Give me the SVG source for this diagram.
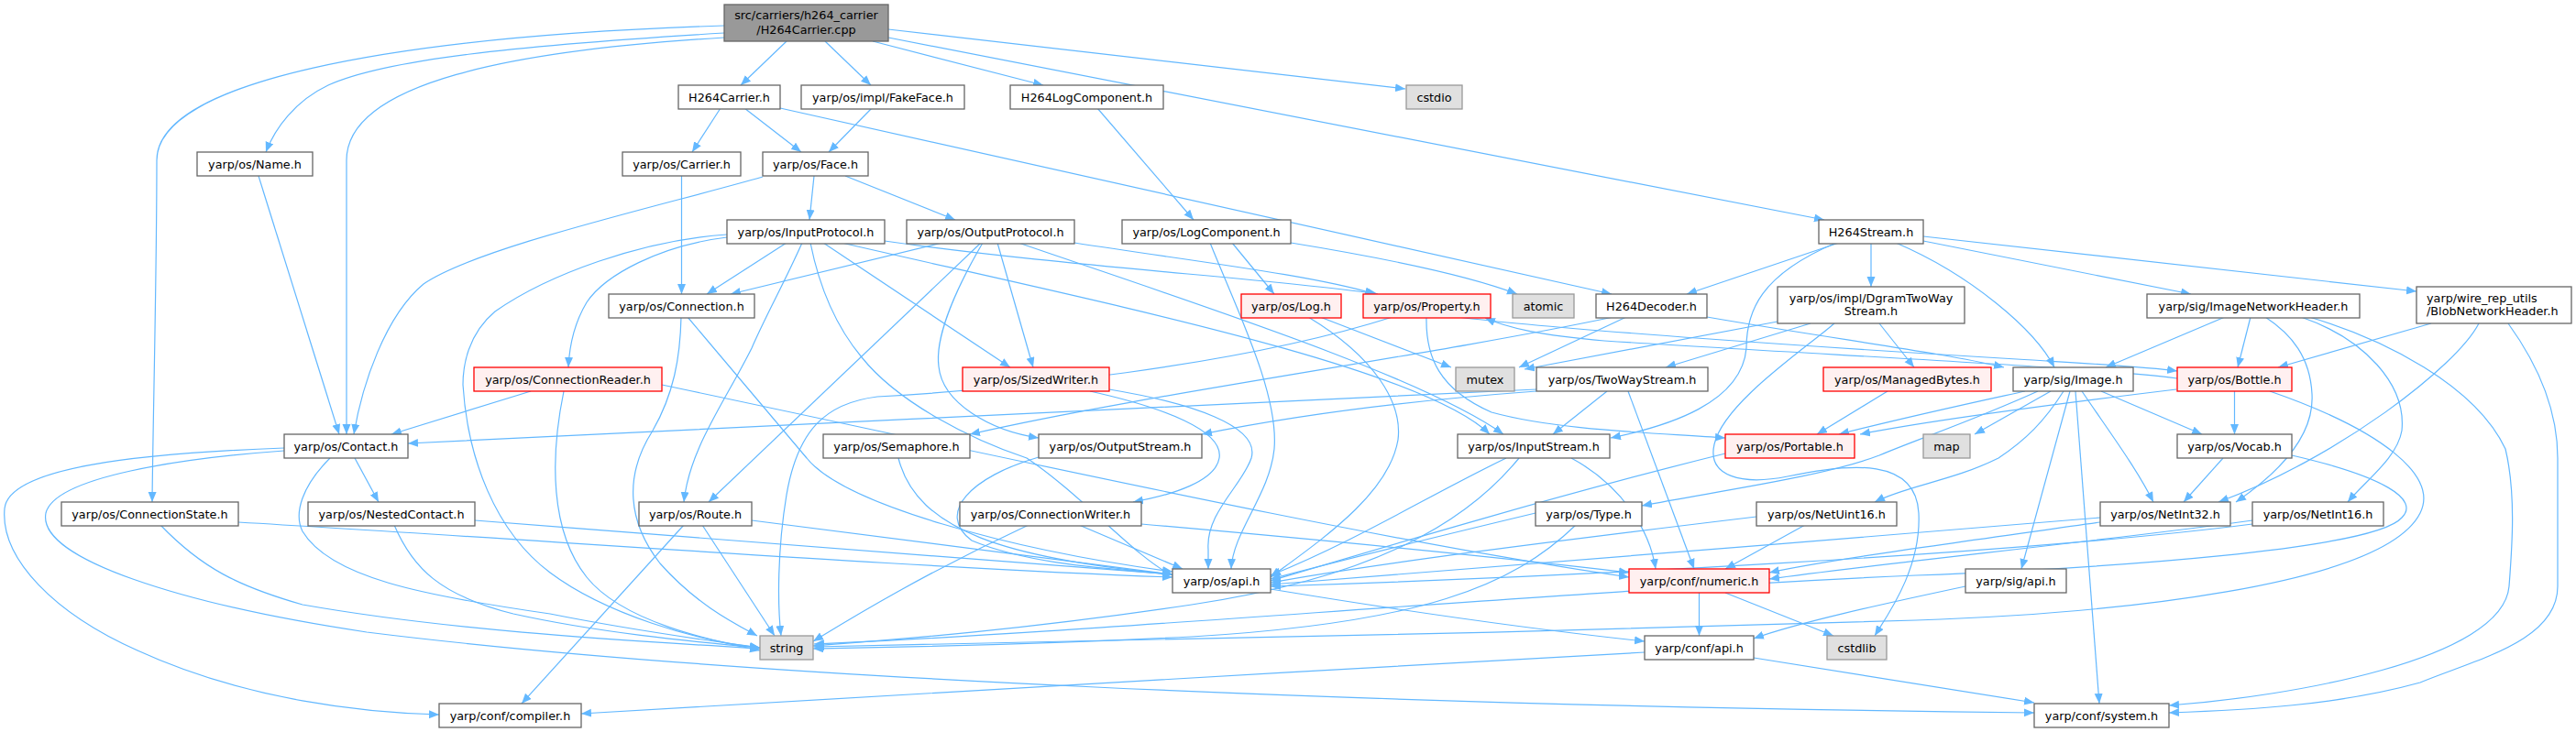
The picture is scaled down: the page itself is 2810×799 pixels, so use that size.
<svg xmlns="http://www.w3.org/2000/svg" width="2810" height="799" viewBox="0 0 2810 799">
<defs>
<style>
.e{fill:none;stroke:#63b8ff;stroke-width:1.2;marker-end:url(#ah)}
.n rect{fill:#fff;stroke:#666;stroke-width:1.3}
.n.g rect{fill:#999}
.n.s rect{fill:#e0e0e0;stroke:#999}
.n.r rect{fill:#fff0f0;stroke:#f00}
text{font-family:"DejaVu Sans","Liberation Sans",sans-serif;font-size:12.8px;fill:#000;text-anchor:middle}
text.l{text-anchor:start}
</style>
<marker id="ah" markerUnits="userSpaceOnUse" markerWidth="12" markerHeight="10" refX="11" refY="4.5" orient="auto"><path d="M0,0L11,4.5L0,9z" fill="#63b8ff"/></marker>
</defs>
<rect width="2810" height="799" fill="#fff"/>
<g id="edges">
<path class="e" d="M858,45L808,93"/>
<path class="e" d="M900,45L950,93"/>
<path class="e" d="M952,45L1138,93"/>
<path class="e" d="M969,32L1533,97"/>
<path class="e" d="M969,41L1990,240"/>
<path class="e" d="M790,36C560,50 420,65 358,93C322,110 300,140 290,166"/>
<path class="e" d="M790,41C560,55 378,90 378,175L378,474"/>
<path class="e" d="M790,28C420,40 171,90 171,175C171,300 167,450 166,548"/>
<path class="e" d="M786,118L755,166"/>
<path class="e" d="M812,118L874,166"/>
<path class="e" d="M851,118L1758,321"/>
<path class="e" d="M951,118L904,166"/>
<path class="e" d="M1197,118L1302,240"/>
<path class="e" d="M282,192L370,474"/>
<path class="e" d="M743.5,192L743.5,321"/>
<path class="e" d="M832,193C720,225 520,270 462,310C420,345 395,420 386,474"/>
<path class="e" d="M888,192L883,240"/>
<path class="e" d="M922,192L1042,240"/>
<path class="e" d="M858,265L771,321"/>
<path class="e" d="M793,259C720,268 660,300 640,330C625,355 621,380 620,401"/>
<path class="e" d="M793,256C700,262 597,300 540,340C510,365 505,400 505,420C510,500 540,580 600,625C660,670 760,700 829,707"/>
<path class="e" d="M875,265C855,310 835,345 820,380C790,440 752,490 746,548"/>
<path class="e" d="M898,265L1102,401"/>
<path class="e" d="M918,265C1200,330 1550,400 1625,474"/>
<path class="e" d="M965,263C1150,290 1400,305 1503,321"/>
<path class="e" d="M884,265C895,320 915,360 940,390C980,440 1060,480 1120,500C1180,540 1240,610 1279,628"/>
<path class="e" d="M1028,265L797,321"/>
<path class="e" d="M1070,265L773,548"/>
<path class="e" d="M1088,265L1127,401"/>
<path class="e" d="M1072,265C1040,320 1020,370 1024,400C1028,440 1080,470 1133,478"/>
<path class="e" d="M1111,265C1300,330 1550,410 1640,474"/>
<path class="e" d="M1172,265C1300,285 1430,300 1500,321"/>
<path class="e" d="M1344,265L1390,321"/>
<path class="e" d="M1408,265C1500,280 1600,300 1655,321"/>
<path class="e" d="M1320,265C1350,340 1395,430 1390,490C1385,540 1345,580 1343,621"/>
<path class="e" d="M2006,265L1840,321"/>
<path class="e" d="M2041,265L2041,313"/>
<path class="e" d="M2068,265C2150,300 2220,360 2241,401"/>
<path class="e" d="M2098,263L2390,321"/>
<path class="e" d="M2098,258L2636,318"/>
<path class="e" d="M2003,265C1920,300 1905,340 1905,380C1900,440 1820,465 1757,478"/>
<path class="e" d="M1774,346L1657,401"/>
<path class="e" d="M1862,346C2000,370 2120,385 2186,401"/>
<path class="e" d="M1760,346C1550,390 1250,430 1058,474"/>
<path class="e" d="M1939,351L1663,403"/>
<path class="e" d="M1975,353L1817,401"/>
<path class="e" d="M2050,353L2088,401"/>
<path class="e" d="M2001,353C1970,380 1880,440 1870,485C1862,520 1900,530 1950,520C2020,505 2090,500 2093,560C2096,620 2060,670 2045,694"/>
<path class="e" d="M2427,346L2297,401"/>
<path class="e" d="M2455,346L2441,401"/>
<path class="e" d="M2471,346C2500,365 2520,390 2522,430C2525,480 2480,520 2439,548"/>
<path class="e" d="M2510,346C2580,370 2625,420 2620,470C2615,500 2580,525 2561,548"/>
<path class="e" d="M2519,346C2600,370 2700,420 2733,490C2745,540 2740,600 2737,640C2730,720 2500,760 2366,770"/>
<path class="e" d="M2652,353L2485,401"/>
<path class="e" d="M2704,353C2680,400 2550,500 2420,548"/>
<path class="e" d="M2736,353C2770,400 2790,450 2790,500L2790,640C2790,700 2700,720 2640,745C2550,770 2450,775 2366,778"/>
<path class="e" d="M579,427L427,474"/>
<path class="e" d="M615,427C600,500 600,580 640,630C680,680 780,700 829,710"/>
<path class="e" d="M722,420C1100,500 1500,590 1777,630"/>
<path class="e" d="M1189,427C1270,445 1335,470 1330,500C1326,525 1280,540 1236,548"/>
<path class="e" d="M1210,425C1300,440 1375,465 1365,500C1355,530 1315,560 1318,600L1318,621"/>
<path class="e" d="M1440,346L1583,401"/>
<path class="e" d="M1427,346C1500,390 1530,440 1525,480C1515,540 1440,590 1386,630"/>
<path class="e" d="M1590,346C1700,360 2000,380 2200,392C2280,397 2340,400 2375,405"/>
<path class="e" d="M2375,413C2300,402 2000,388 1750,372C1680,366 1645,358 1620,347"/>
<path class="e" d="M1556,346C1555,390 1570,425 1627,450C1700,470 1800,472 1882,478"/>
<path class="e" d="M1519,346C1350,400 1100,425 957,433C900,440 870,470 858,540C848,600 848,660 852,694"/>
<path class="e" d="M1676,425C1400,440 800,465 445,484"/>
<path class="e" d="M1676,427C1500,440 1380,460 1311,474"/>
<path class="e" d="M1753,427L1694,474"/>
<path class="e" d="M1776,427L1848,621"/>
<path class="e" d="M2059,427L1982,474"/>
<path class="e" d="M2209,427C2150,440 2080,455 2006,474"/>
<path class="e" d="M2223,427C2150,460 2090,480 2050,497C1990,520 1880,535 1791,552"/>
<path class="e" d="M2237,427L2154,474"/>
<path class="e" d="M2251,427C2230,460 2210,480 2180,500C2130,525 2080,530 2045,548"/>
<path class="e" d="M2258,427L2205,621"/>
<path class="e" d="M2264,427L2290,768"/>
<path class="e" d="M2271,427C2300,470 2330,510 2349,548"/>
<path class="e" d="M2292,427L2402,474"/>
<path class="e" d="M2374,425C2250,440 2100,460 2029,474"/>
<path class="e" d="M2437.5,427L2437.5,474"/>
<path class="e" d="M2476,427C2600,470 2660,520 2640,560C2600,640 2300,670 2090,677C1700,690 1200,700 888,706"/>
<path class="e" d="M2425,500L2382,548"/>
<path class="e" d="M2500,497C2600,520 2640,545 2620,565C2590,600 2300,620 2090,628C1700,645 1200,690 888,703"/>
<path class="e" d="M387,500L413,548"/>
<path class="e" d="M360,500C330,530 320,560 330,580C360,630 460,650 600,670C700,690 780,700 829,707"/>
<path class="e" d="M310,489C150,495 10,510 5,555C0,610 60,670 150,710C270,765 400,778 479,780"/>
<path class="e" d="M310,492C200,500 60,520 50,560C40,610 200,660 400,690C800,740 1500,770 2219,778"/>
<path class="e" d="M518,568C800,590 1100,615 1279,627"/>
<path class="e" d="M430,573C450,620 480,650 560,670C650,690 750,700 829,707"/>
<path class="e" d="M260,570C600,590 1000,620 1279,630"/>
<path class="e" d="M175,573C220,620 260,640 330,660C500,690 700,700 829,708"/>
<path class="e" d="M820,568L1279,627"/>
<path class="e" d="M766,573L845,694"/>
<path class="e" d="M746,573L569,768"/>
<path class="e" d="M1177,573L1290,621"/>
<path class="e" d="M1122,573C1000,630 920,680 887,700"/>
<path class="e" d="M1245,572C1450,590 1650,610 1777,625"/>
<path class="e" d="M980,500C1000,580 1100,610 1279,627"/>
<path class="e" d="M1133,499C1060,520 1020,560 1060,590C1120,615 1200,620 1279,627"/>
<path class="e" d="M1643,500C1560,540 1480,590 1386,628"/>
<path class="e" d="M1657,500C1600,570 1500,630 1300,660C1100,690 950,700 887,705"/>
<path class="e" d="M1714,500C1770,530 1800,580 1806,621"/>
<path class="e" d="M1675,560C1550,590 1450,615 1386,632"/>
<path class="e" d="M1719,573C1650,640 1550,680 1300,695C1100,705 950,707 887,708"/>
<path class="e" d="M1882,495C1700,540 1500,600 1386,634"/>
<path class="e" d="M1916,564C1700,590 1500,615 1386,636"/>
<path class="e" d="M1969,573L1882,621"/>
<path class="e" d="M2291,565C2000,590 1600,620 1386,638"/>
<path class="e" d="M2291,570C2150,590 2000,610 1930,625"/>
<path class="e" d="M2457,568C2300,590 2050,615 1930,632"/>
<path class="e" d="M2457,572C2200,605 1700,630 1386,640"/>
<path class="e" d="M2144,640C2050,660 1960,680 1913,697"/>
<path class="e" d="M1386,643C1550,670 1700,690 1794,700"/>
<path class="e" d="M1853.5,647L1853.5,694"/>
<path class="e" d="M1882,647L2000,694"/>
<path class="e" d="M1794,712C1400,735 900,760 634,779"/>
<path class="e" d="M1913,718C2050,740 2150,755 2219,767"/>
<path class="e" d="M750,346L880,500C920,550 1100,600 1279,624"/>
<path class="e" d="M743,346C742,390 735,430 712,470C680,520 685,570 720,615C760,660 800,680 826,694"/>
</g>
<g id="n-main" class="n g"><rect x="790" y="5" width="179" height="40"/><text x="879.5" y="21">src/carriers/h264_carrier</text><text x="879.5" y="36.5">/H264Carrier.cpp</text></g>
<g id="n-h264carrier-h" class="n"><rect x="740" y="93" width="111" height="26"/><text x="795.5" y="110.5">H264Carrier.h</text></g>
<g id="n-fakeface" class="n"><rect x="874" y="93" width="178" height="26"/><text x="963" y="110.5">yarp/os/impl/FakeFace.h</text></g>
<g id="n-h264logcomponent" class="n"><rect x="1102" y="93" width="167" height="26"/><text x="1185.5" y="110.5">H264LogComponent.h</text></g>
<g id="n-cstdio" class="n s"><rect x="1534" y="93" width="61" height="26"/><text x="1564.5" y="110.5">cstdio</text></g>
<g id="n-name" class="n"><rect x="215" y="166" width="126" height="26"/><text x="278" y="183.5">yarp/os/Name.h</text></g>
<g id="n-carrier" class="n"><rect x="679" y="166" width="129" height="26"/><text x="743.5" y="183.5">yarp/os/Carrier.h</text></g>
<g id="n-face" class="n"><rect x="832" y="166" width="115" height="26"/><text x="889.5" y="183.5">yarp/os/Face.h</text></g>
<g id="n-inputprotocol" class="n"><rect x="793" y="240" width="172" height="26"/><text x="879" y="257.5">yarp/os/InputProtocol.h</text></g>
<g id="n-outputprotocol" class="n"><rect x="989" y="240" width="183" height="26"/><text x="1080.5" y="257.5">yarp/os/OutputProtocol.h</text></g>
<g id="n-logcomponent" class="n"><rect x="1224" y="240" width="184" height="26"/><text x="1316" y="257.5">yarp/os/LogComponent.h</text></g>
<g id="n-h264stream" class="n"><rect x="1984" y="240" width="114" height="26"/><text x="2041" y="257.5">H264Stream.h</text></g>
<g id="n-connection" class="n"><rect x="664" y="321" width="159" height="26"/><text x="743.5" y="338.5">yarp/os/Connection.h</text></g>
<g id="n-log" class="n r"><rect x="1354" y="321" width="109" height="26"/><text x="1408.5" y="338.5">yarp/os/Log.h</text></g>
<g id="n-property" class="n r"><rect x="1487" y="321" width="139" height="26"/><text x="1556.5" y="338.5">yarp/os/Property.h</text></g>
<g id="n-atomic" class="n s"><rect x="1650" y="321" width="67" height="26"/><text x="1683.5" y="338.5">atomic</text></g>
<g id="n-h264decoder" class="n"><rect x="1741" y="321" width="121" height="26"/><text x="1801.5" y="338.5">H264Decoder.h</text></g>
<g id="n-dgram" class="n"><rect x="1939" y="313" width="204" height="40"/><text x="2041" y="329.5">yarp/os/impl/DgramTwoWay</text><text x="2041" y="344">Stream.h</text></g>
<g id="n-imagenetworkheader" class="n"><rect x="2342" y="321" width="232" height="26"/><text x="2458" y="338.5">yarp/sig/ImageNetworkHeader.h</text></g>
<g id="n-blob" class="n"><rect x="2636" y="313" width="169" height="40"/><text class="l" x="2647" y="329.5">yarp/wire_rep_utils</text><text class="l" x="2647" y="344">/BlobNetworkHeader.h</text></g>
<g id="n-connectionreader" class="n r"><rect x="517" y="401" width="205" height="26"/><text x="619.5" y="418.5">yarp/os/ConnectionReader.h</text></g>
<g id="n-sizedwriter" class="n r"><rect x="1050" y="401" width="160" height="26"/><text x="1130" y="418.5">yarp/os/SizedWriter.h</text></g>
<g id="n-mutex" class="n s"><rect x="1588" y="401" width="64" height="26"/><text x="1620" y="418.5">mutex</text></g>
<g id="n-twowaystream" class="n"><rect x="1676" y="401" width="187" height="26"/><text x="1769.5" y="418.5">yarp/os/TwoWayStream.h</text></g>
<g id="n-managedbytes" class="n r"><rect x="1989" y="401" width="183" height="26"/><text x="2080.5" y="418.5">yarp/os/ManagedBytes.h</text></g>
<g id="n-image" class="n"><rect x="2196" y="401" width="131" height="26"/><text x="2261.5" y="418.5">yarp/sig/Image.h</text></g>
<g id="n-bottle" class="n r"><rect x="2375" y="401" width="125" height="26"/><text x="2437.5" y="418.5">yarp/os/Bottle.h</text></g>
<g id="n-contact" class="n"><rect x="310" y="474" width="135" height="26"/><text x="377.5" y="491.5">yarp/os/Contact.h</text></g>
<g id="n-semaphore" class="n"><rect x="898" y="474" width="160" height="26"/><text x="978" y="491.5">yarp/os/Semaphore.h</text></g>
<g id="n-outputstream" class="n"><rect x="1133" y="474" width="178" height="26"/><text x="1222" y="491.5">yarp/os/OutputStream.h</text></g>
<g id="n-inputstream" class="n"><rect x="1590" y="474" width="166" height="26"/><text x="1673" y="491.5">yarp/os/InputStream.h</text></g>
<g id="n-portable" class="n r"><rect x="1882" y="474" width="141" height="26"/><text x="1952.5" y="491.5">yarp/os/Portable.h</text></g>
<g id="n-map" class="n s"><rect x="2098" y="474" width="51" height="26"/><text x="2123.5" y="491.5">map</text></g>
<g id="n-vocab" class="n"><rect x="2375" y="474" width="125" height="26"/><text x="2437.5" y="491.5">yarp/os/Vocab.h</text></g>
<g id="n-connectionstate" class="n"><rect x="67" y="548" width="193" height="26"/><text x="163.5" y="565.5">yarp/os/ConnectionState.h</text></g>
<g id="n-nestedcontact" class="n"><rect x="336" y="548" width="182" height="26"/><text x="427" y="565.5">yarp/os/NestedContact.h</text></g>
<g id="n-route" class="n"><rect x="697" y="548" width="123" height="26"/><text x="758.5" y="565.5">yarp/os/Route.h</text></g>
<g id="n-connectionwriter" class="n"><rect x="1047" y="548" width="198" height="26"/><text x="1146" y="565.5">yarp/os/ConnectionWriter.h</text></g>
<g id="n-type" class="n"><rect x="1675" y="548" width="116" height="26"/><text x="1733" y="565.5">yarp/os/Type.h</text></g>
<g id="n-netuint16" class="n"><rect x="1916" y="548" width="153" height="26"/><text x="1992.5" y="565.5">yarp/os/NetUint16.h</text></g>
<g id="n-netint32" class="n"><rect x="2291" y="548" width="142" height="26"/><text x="2362" y="565.5">yarp/os/NetInt32.h</text></g>
<g id="n-netint16" class="n"><rect x="2457" y="548" width="143" height="26"/><text x="2528.5" y="565.5">yarp/os/NetInt16.h</text></g>
<g id="n-os-api" class="n"><rect x="1279" y="621" width="107" height="26"/><text x="1332.5" y="638.5">yarp/os/api.h</text></g>
<g id="n-numeric" class="n r"><rect x="1777" y="621" width="153" height="26"/><text x="1853.5" y="638.5">yarp/conf/numeric.h</text></g>
<g id="n-sig-api" class="n"><rect x="2144" y="621" width="110" height="26"/><text x="2199" y="638.5">yarp/sig/api.h</text></g>
<g id="n-string" class="n s"><rect x="829" y="694" width="58" height="26"/><text x="858" y="711.5">string</text></g>
<g id="n-conf-api" class="n"><rect x="1794" y="694" width="119" height="26"/><text x="1853.5" y="711.5">yarp/conf/api.h</text></g>
<g id="n-cstdlib" class="n s"><rect x="1993" y="694" width="65" height="26"/><text x="2025.5" y="711.5">cstdlib</text></g>
<g id="n-compiler" class="n"><rect x="479" y="768" width="155" height="26"/><text x="556.5" y="785.5">yarp/conf/compiler.h</text></g>
<g id="n-system" class="n"><rect x="2219" y="768" width="147" height="26"/><text x="2292.5" y="785.5">yarp/conf/system.h</text></g>
</svg>
